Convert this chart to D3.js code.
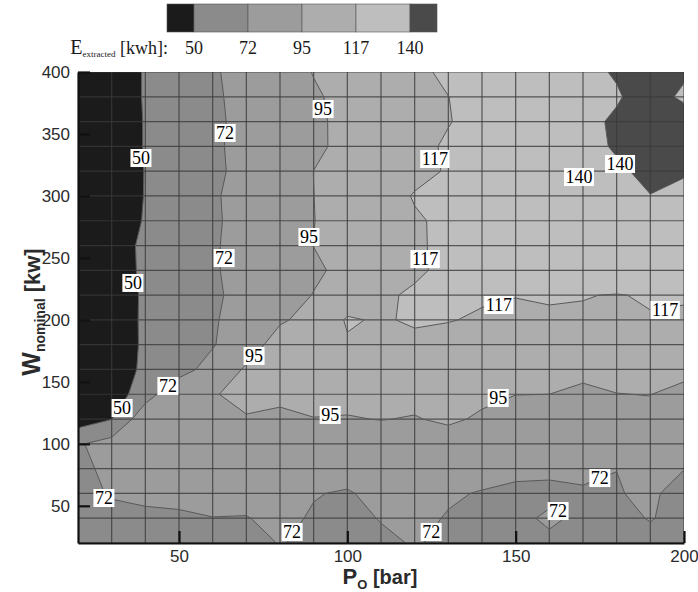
<!DOCTYPE html>
<html>
<head>
<meta charset="utf-8">
<script src="https://cdn.jsdelivr.net/npm/d3@7"></script>
<style>
  body { margin: 0; background: #fff; }
  svg { display: block; }
</style>
</head>
<body>
<svg id="chart" width="698" height="592"></svg>
<script>
// Grid of the simulation: operating pressure P_O [bar] (columns)
const pressures = [20, 30, 40, 50, 60, 70, 80, 90, 100, 110, 120, 130, 140, 150, 160, 170, 180, 190, 200];
// nominal power W [kW] (rows, listed from the top of the plot down)
const powers = [400, 380, 360, 340, 320, 300, 280, 260, 240, 220, 200, 180, 160, 140, 120, 100, 80, 60, 40, 20];

// Contour levels of the extracted energy [kWh] and the shade of each band
const levels = [50, 72, 95, 117, 140];
const bandColors = ["#1b1b1b", "#8b8b8b", "#9c9c9c", "#adadad", "#bebebe", "#4a4a4a"];

const xTicks = [50, 100, 150, 200];
const yTicks = [50, 100, 150, 200, 250, 300, 350, 400];

// Extracted energy [kWh], one array per nominal power, across the pressures
const eW400 = [33.0, 42.0, 51.0, 60.5, 69.9, 78.7, 87.3, 95.6, 101.8, 108.0, 114.2, 119.4, 123.7, 128.1, 132.4, 136.8, 141.1, 145.0, 142.0];
const eW380 = [33.0, 42.0, 51.0, 60.1, 69.3, 77.5, 85.3, 93.1, 99.4, 105.2, 111.1, 116.9, 121.3, 125.7, 130.0, 134.4, 138.8, 145.7, 137.6];
const eW360 = [32.7, 41.7, 50.7, 59.7, 68.7, 76.9, 84.6, 92.3, 98.8, 104.7, 110.6, 116.4, 121.5, 126.6, 131.6, 136.7, 141.8, 148.0, 147.0];
const eW340 = [32.7, 41.7, 50.7, 60.0, 69.2, 77.2, 84.6, 92.0, 99.1, 106.0, 112.9, 118.8, 123.3, 127.7, 132.2, 136.7, 141.1, 148.0, 149.0];
const eW320 = [32.5, 41.5, 50.4, 59.4, 68.4, 77.3, 86.3, 95.1, 101.0, 106.9, 112.8, 118.2, 122.2, 126.3, 130.3, 134.3, 138.4, 142.4, 143.0];
const eW300 = [32.5, 41.5, 50.5, 60.2, 69.9, 78.5, 86.7, 94.9, 102.5, 110.1, 118.0, 117.5, 121.5, 126.0, 130.0, 134.0, 137.5, 139.8, 132.0];
const eW280 = [33.0, 42.0, 51.0, 60.3, 69.5, 78.1, 86.4, 94.7, 101.6, 108.6, 115.5, 119.7, 123.2, 126.7, 130.2, 133.7, 136.0, 136.0, 130.0];
const eW260 = [34.7, 43.7, 52.6, 61.3, 70.1, 78.5, 86.9, 95.2, 102.0, 108.7, 115.5, 119.5, 123.0, 126.5, 129.5, 132.5, 134.5, 135.0, 130.0];
const eW240 = [34.4, 43.4, 52.4, 61.4, 70.3, 77.8, 85.0, 92.1, 99.7, 107.5, 115.3, 119.5, 122.5, 125.5, 128.0, 130.5, 132.0, 132.0, 128.0];
const eW220 = [33.9, 42.9, 51.8, 60.4, 69.1, 77.9, 86.7, 95.6, 105.5, 115.3, 118.5, 119.0, 118.5, 117.4, 118.0, 117.6, 116.3, 118.5, 118.0];
const eW200 = [34.0, 43.0, 51.9, 60.9, 69.9, 81.1, 92.9, 100.5, 119.0, 115.0, 119.5, 117.6, 115.5, 114.0, 115.5, 115.0, 113.5, 116.0, 115.5];
const eW180 = [34.0, 43.0, 51.8, 60.8, 70.5, 86.0, 103.0, 108.0, 115.0, 112.0, 112.0, 112.0, 111.0, 110.0, 110.5, 110.5, 109.5, 110.5, 111.0];
const eW160 = [34.3, 43.3, 52.3, 64.0, 80.0, 97.6, 100.0, 102.0, 105.0, 105.0, 104.0, 104.5, 104.0, 103.0, 103.0, 103.0, 103.0, 103.0, 105.0];
const eW140 = [32.0, 36.6, 63.4, 88.0, 94.5, 97.0, 96.5, 97.5, 97.0, 98.0, 97.0, 99.0, 96.5, 95.1, 95.0, 88.5, 94.6, 95.5, 85.0];
const eW120 = [39.0, 49.5, 86.5, 90.0, 92.0, 94.5, 93.6, 94.8, 94.6, 95.2, 94.6, 96.2, 94.0, 91.8, 91.0, 86.0, 90.0, 88.4, 85.0];
const eW100 = [70.0, 80.0, 84.0, 86.0, 87.0, 88.0, 88.5, 89.0, 89.5, 91.2, 90.0, 91.4, 89.0, 88.0, 87.0, 84.0, 84.0, 83.0, 81.0];
const eW80  = [66.0, 78.0, 80.0, 81.0, 81.5, 81.0, 80.0, 80.0, 79.0, 80.0, 81.0, 80.0, 79.0, 78.0, 77.5, 75.0, 72.1, 75.0, 72.3];
const eW60  = [64.0, 74.1, 76.0, 77.0, 77.5, 77.0, 75.0, 72.8, 70.5, 77.0, 76.0, 74.0, 70.9, 66.6, 65.5, 70.5, 71.3, 74.2, 66.8];
const eW40  = [63.0, 65.0, 68.3, 69.3, 71.7, 71.4, 75.7, 70.5, 66.0, 73.0, 76.0, 70.9, 67.0, 66.0, 76.0, 67.0, 69.4, 72.5, 69.0];
const eW20  = [63.0, 63.0, 64.0, 64.0, 66.0, 68.0, 72.5, 70.0, 66.0, 68.0, 73.5, 68.0, 66.0, 65.0, 67.0, 66.0, 66.0, 69.2, 67.0];

const energyRows = [eW400, eW380, eW360, eW340, eW320, eW300, eW280, eW260, eW240, eW220,
                    eW200, eW180, eW160, eW140, eW120, eW100, eW80, eW60, eW40, eW20];

// Inline contour labels: the level written and the (P, W) point it sits on
const labelLevel = [95, 72, 50, 117, 140, 140, 95, 72, 117, 50, 117, 117, 95, 72, 50, 95, 95, 72, 72, 72, 72, 72];
const labelP     = [92.8, 63.7, 38.7, 126.0, 168.8, 181.0, 88.6, 63.4, 123.1, 36.3, 145.0, 194.4, 72.3, 46.7, 33.1, 94.9, 144.8, 27.7, 175.0, 162.6, 83.6, 124.9];
const labelW     = [370.1, 350.8, 330.6, 329.8, 315.3, 325.8, 266.9, 249.9, 249.1, 229.8, 212.0, 208.0, 170.9, 146.7, 128.9, 123.3, 137.0, 56.3, 72.4, 45.8, 28.9, 28.9];

// ---------------------------------------------------------------------------
const svg = d3.select("#chart");
const margin = { left: 78, right: 14, top: 72, bottom: 49 };
const W = 698, H = 592;

const x = d3.scaleLinear().domain([20, 200]).range([margin.left, W - margin.right]);
const y = d3.scaleLinear().domain([20, 400]).range([H - margin.bottom, margin.top]);

const nx = pressures.length, ny = powers.length;
const values = energyRows.flat();

// d3.contours places node i at grid coordinate i + 0.5
const gx = d3.scaleLinear().domain([0.5, nx - 0.5]).range([pressures[0], pressures[nx - 1]]);
const gy = d3.scaleLinear().domain([0.5, ny - 0.5]).range([powers[0], powers[ny - 1]]);
const toScreen = d3.geoTransform({
  point(px, py) { this.stream.point(x(gx(px)), y(gy(py))); }
});
const path = d3.geoPath(toScreen);

const bands = d3.contours().size([nx, ny]).thresholds(levels)(values);

svg.append("defs").append("clipPath").attr("id", "plot-clip")
  .append("rect")
  .attr("x", x(20)).attr("y", y(400))
  .attr("width", x(200) - x(20)).attr("height", y(20) - y(400));

const plot = svg.append("g").attr("clip-path", "url(#plot-clip)");

// filled bands
plot.append("rect")
  .attr("x", x(20)).attr("y", y(400))
  .attr("width", x(200) - x(20)).attr("height", y(20) - y(400))
  .attr("fill", bandColors[0]);

plot.selectAll("path.band").data(bands).join("path")
  .attr("class", "band")
  .attr("d", path)
  .attr("fill", (d, i) => bandColors[i + 1]);

// computational mesh
const mesh = plot.append("g")
  .attr("stroke", "#3a3a3a").attr("stroke-width", 1.2).attr("stroke-opacity", 0.8);
mesh.selectAll("line.v").data(pressures).join("line")
  .attr("class", "v")
  .attr("x1", d => x(d)).attr("x2", d => x(d))
  .attr("y1", y(20)).attr("y2", y(400));
mesh.selectAll("line.h").data(powers).join("line")
  .attr("class", "h")
  .attr("x1", x(20)).attr("x2", x(200))
  .attr("y1", d => y(d)).attr("y2", d => y(d));

// contour lines
plot.selectAll("path.iso").data(bands).join("path")
  .attr("class", "iso")
  .attr("d", path)
  .attr("fill", "none")
  .attr("stroke", "#595959")
  .attr("stroke-width", 1);

// inline labels
const labels = svg.append("g")
  .attr("font-family", "'Liberation Serif', 'Times New Roman', serif")
  .attr("font-size", 18);
const lab = labels.selectAll("g").data(labelLevel.map((v, i) => ({ v, p: labelP[i], w: labelW[i] })))
  .join("g")
  .attr("transform", d => `translate(${x(d.p)},${y(d.w)})`);
lab.append("text")
  .attr("text-anchor", "middle")
  .attr("dy", "0.35em")
  .attr("fill", "#000")
  .text(d => d.v);
lab.each(function () {
  const g = d3.select(this);
  const bb = g.select("text").node().getBBox();
  g.insert("rect", "text")
    .attr("x", bb.x - 1.5).attr("y", -9)
    .attr("width", bb.width + 3).attr("height", 18)
    .attr("fill", "#fff");
});

// axes
const axisFont = "'Liberation Sans', Arial, Helvetica, sans-serif";
const xAxis = svg.append("g")
  .attr("transform", `translate(0,${y(20)})`)
  .call(d3.axisBottom(x).tickValues(xTicks).tickSizeInner(-12).tickSizeOuter(0).tickPadding(7));
const yAxis = svg.append("g")
  .attr("transform", `translate(${x(20)},0)`)
  .call(d3.axisLeft(y).tickValues(yTicks).tickSizeInner(-12).tickSizeOuter(0).tickPadding(8));

[xAxis, yAxis].forEach(a => {
  a.select(".domain").attr("stroke", "#111").attr("stroke-width", 2.2);
  a.selectAll(".tick line").attr("stroke", "#111").attr("stroke-width", 2.2);
  a.selectAll(".tick text")
    .attr("font-family", axisFont).attr("font-size", 17).attr("fill", "#2b2b2b");
});

// axis titles
const xTitle = svg.append("text")
  .attr("x", 380).attr("y", 584)
  .attr("text-anchor", "middle")
  .attr("font-family", axisFont).attr("font-weight", "bold").attr("font-size", 20)
  .attr("fill", "#2b2b2b");
xTitle.append("tspan").attr("font-size", 22).text("P");
xTitle.append("tspan").attr("font-size", 13).attr("dy", 5).text("O");
xTitle.append("tspan").attr("dy", -5).text(" [bar]");

const yTitle = svg.append("text")
  .attr("transform", "translate(40,312) rotate(-90)")
  .attr("text-anchor", "middle")
  .attr("font-family", axisFont).attr("font-weight", "bold").attr("font-size", 22)
  .attr("fill", "#2b2b2b");
yTitle.append("tspan").attr("font-size", 25).text("W");
yTitle.append("tspan").attr("font-size", 14).attr("dy", 5).text("nominal");
yTitle.append("tspan").attr("dy", -5).text(" [kw]");

// colour legend
const lx = d3.scalePoint().domain(levels).range([194, 410]);
const step = lx.step();
const legend = svg.append("g");
const legendBands = bandColors.map((c, i) => ({
  c,
  x0: i === 0 ? lx(levels[0]) - step / 2 : lx(levels[i - 1]),
  x1: i === levels.length ? lx(levels[levels.length - 1]) + step / 2 : lx(levels[i])
}));
legend.selectAll("rect").data(legendBands).join("rect")
  .attr("x", d => d.x0).attr("y", 4)
  .attr("width", d => d.x1 - d.x0).attr("height", 28)
  .attr("fill", d => d.c)
  .attr("stroke", "#555").attr("stroke-width", 0.6);
legend.selectAll("text.lv").data(levels).join("text")
  .attr("class", "lv")
  .attr("x", d => lx(d)).attr("y", 54)
  .attr("text-anchor", "middle")
  .attr("font-family", "'Liberation Serif', 'Times New Roman', serif")
  .attr("font-size", 18).attr("fill", "#1a1a1a")
  .text(d => d);
const lt = legend.append("text")
  .attr("x", 168).attr("y", 54)
  .attr("text-anchor", "end")
  .attr("font-family", "'Liberation Serif', 'Times New Roman', serif")
  .attr("font-size", 18).attr("fill", "#1a1a1a");
lt.append("tspan").attr("font-size", 20).text("E");
lt.append("tspan").attr("font-size", 9).attr("dy", 3).text("extracted");
lt.append("tspan").attr("dy", -3).text(" [kwh]:");
</script>
</body>
</html>
